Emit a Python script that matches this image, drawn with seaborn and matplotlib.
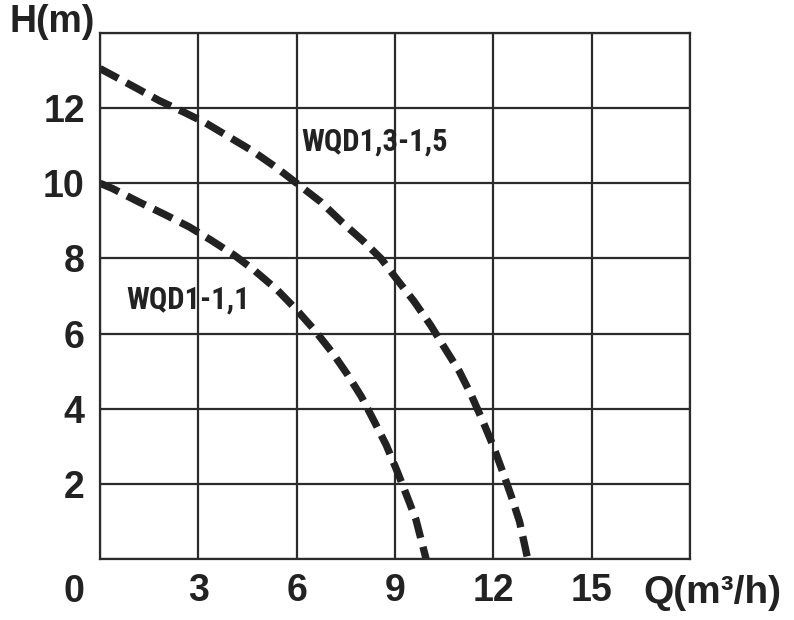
import numpy as np
import pandas as pd
import seaborn as sns
import matplotlib.pyplot as plt

sns.set_style("white")
plt.rcParams['font.family'] = ['Liberation Sans', 'DejaVu Sans']

# pump curves: flow Q (m3/h) vs head H (m)
q_big = [0, 1.09, 1.8, 2.56, 3.23, 3.94, 4.65, 5.36, 6.0, 6.74, 7.4, 8.02,
         8.57, 9.07, 9.58, 10.09, 10.5, 10.96, 11.32, 11.68, 12.0, 12.3,
         12.55, 12.8, 13.05]
h_big = [13.05, 12.54, 12.2, 11.89, 11.6, 11.23, 10.86, 10.43, 10.0, 9.5,
         8.95, 8.47, 8.0, 7.43, 6.86, 6.22, 5.64, 5.0, 4.38, 3.67, 3.0, 2.29,
         1.67, 1.0, 0]
q_small = [0, 0.38, 1.19, 1.95, 2.72, 3.38, 4.09, 4.7, 5.41, 6.0, 6.54, 7.1,
           7.56, 7.97, 8.37, 8.73, 9.07, 9.39, 9.64, 9.95]
h_small = [10.0, 9.86, 9.5, 9.18, 8.84, 8.49, 8.09, 7.69, 7.16, 6.63, 6.1,
           5.48, 4.9, 4.33, 3.66, 3.04, 2.33, 1.62, 1.05, 0]

model_names = ["WQD1,3-1,5", "WQD1-1,1"]
x_ticks = [0, 3, 6, 9, 12, 15, 18]
x_labels = ['', '3', '6', '9', '12', '15', '']
y_ticks = [0, 2, 4, 6, 8, 10, 12, 14]
y_labels = ['', '2', '4', '6', '8', '10', '12', '']

df = pd.concat([
    pd.DataFrame({'Q': q_big, 'H': h_big, 'model': model_names[0]}),
    pd.DataFrame({'Q': q_small, 'H': h_small, 'model': model_names[1]}),
])

INK = '#222222'
GRID = '#2b2b2b'
NARROW = ['Roboto Condensed', 'DejaVu Sans']

fig = plt.figure(figsize=(7.94, 6.2), dpi=100)
ax = fig.add_axes([0.126, 0.098, 0.743, 0.849])

sns.lineplot(data=df, x='Q', y='H', hue='model', palette=[INK, INK],
             sort=False, estimator=None, legend=False, lw=5.3, ax=ax)
for line in ax.get_lines():
    line.set_dashes((2.8, 1.25))
    line.set_dash_capstyle('butt')
    line.set_solid_joinstyle('round')

ax.set_xlim(0, 18)
ax.set_ylim(0, 14)
ax.set_xticks(x_ticks)
ax.set_xticklabels(x_labels)
ax.set_yticks(y_ticks)
ax.set_yticklabels(y_labels)
ax.set_xlabel('')
ax.set_ylabel('')
ax.grid(True, color=GRID, lw=1.6)
ax.set_axisbelow(True)
for sp in ax.spines.values():
    sp.set_visible(True)
    sp.set_color(GRID)
    sp.set_linewidth(1.6)
ax.tick_params(length=0, labelsize=27, labelcolor=INK)
ax.tick_params(axis='x', pad=10)
ax.tick_params(axis='y', pad=11)
for lab in ax.get_xticklabels() + ax.get_yticklabels():
    lab.set_fontweight('bold')

# curve labels (condensed lettering)
ax.text(6.14, 11.1, model_names[0], fontsize=22, fontweight='bold',
        family=NARROW, fontstretch='condensed', color=INK,
        va='center', ha='left')
ax.text(0.8, 6.9, model_names[1], fontsize=22, fontweight='bold',
        family=NARROW, fontstretch='condensed', color=INK,
        va='center', ha='left')

# axis titles and the shared corner zero
fig.text(52 / 794, 1 - 22 / 620, 'H(m)', fontsize=27, fontweight='bold',
         color=INK, ha='center', va='center')
fig.text(712 / 794, 1 - 593 / 620, 'Q(m³/h)', fontsize=28, fontweight='bold',
         color=INK, ha='center', va='center')
fig.text(74 / 794, 1 - 592 / 620, '0', fontsize=27, fontweight='bold',
         color=INK, ha='center', va='center')

fig.savefig('out.png', dpi=100, facecolor='white')
